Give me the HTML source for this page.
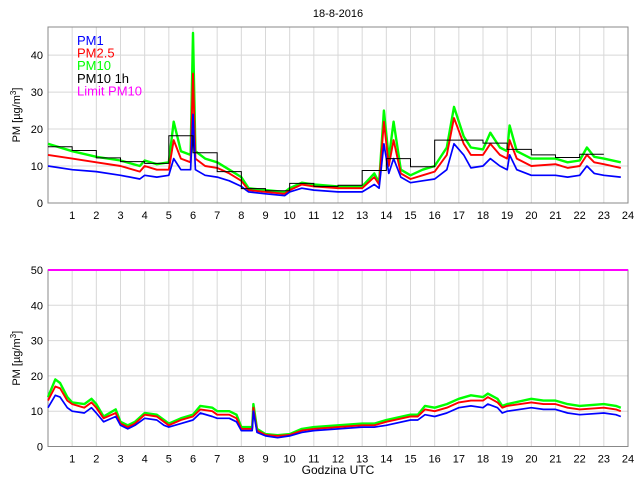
<!DOCTYPE html>
<html><head><meta charset="utf-8">
<style>
html,body{margin:0;padding:0;background:#fff;}
svg{display:block;font-family:"Liberation Sans",sans-serif;}
</style></head>
<body>
<svg id="c" width="640" height="480" viewBox="0 0 640 480"></svg>
<script>
// ---- top panel data ----
const topTimes=[0,1,2,3,3.8,4,4.5,5,5.2,5.5,5.9,6.0,6.1,6.5,7,7.5,8,8.3,9,9.8,10,10.5,11,12,13,13.5,13.7,13.9,14.1,14.3,14.6,15,15.5,16,16.5,16.8,17.2,17.5,18,18.3,18.7,19,19.1,19.4,20,21,21.5,22,22.3,22.6,23,23.7];
const topPM1=[10,9,8.5,7.5,6.5,7.5,7,7.5,12,9,9,24,9,7.5,7,6,4.5,3,2.5,2,3,4,3.5,3,3,5,4,16,8,12,7,5.5,6,6.5,9,16,13,9.5,10,12,10,9,13,9,7.5,7.5,7,7.5,10,8,7.5,7];
const topPM25=[13,12,11,10,8.5,10,9,9,17,12,11,35,12,10,9.5,8,6,3.5,3,2.5,3.5,5,4.5,4,4,7,5,22,10,17,8,6.5,7.5,8.5,13,23,16,13,13,16,13,12,17,12,10,10.5,9.5,10,13,11,10.5,9.5];
const topPM10=[16,14,12.5,11.5,10,11.5,10.5,11,22,14,13,46,14,12,11,9,7,4,3.5,3,4,5.5,5,4.5,4.5,8,5.5,25,12,22,9,7.5,9,10,15,26,18,15,14.5,19,15,14,21,14,12,12,11,11.5,15,12.5,12,11];
const hourly=[15.2,14.2,12.2,11.2,10.7,18.2,13.6,8.5,3.9,3.3,5.3,4.5,4.8,8.8,12,9.8,17,17,16.2,14.5,13,12.3,13.2];
// ---- bottom panel data ----
const botTimes=[0,0.3,0.5,0.8,1,1.5,1.8,2,2.3,2.8,3,3.3,3.6,4,4.5,4.8,5,5.5,6,6.3,6.8,7,7.5,7.8,8,8.3,8.45,8.5,8.65,9,9.5,10,10.5,11,12,13,13.5,14,15,15.3,15.6,16,16.5,17,17.5,18,18.2,18.6,18.8,19,20,20.5,21,21.5,22,23,23.5,23.7];
const botPM1=[11,14.5,14,11,10,9.5,11,9.5,7,8.5,6,5,6,8,7.5,6,5.5,6.5,7.5,9.5,8.5,8,8,7,4.5,4.5,4.5,10,4,3,2.5,3,4,4.5,5,5.5,5.5,6,7.5,7.5,9,8.5,9.5,11,11.5,11,12,11,9.5,10,11,10.5,10.5,9.5,9,9.5,9,8.5];
const botPM25=[13,17,16.5,13,12,11,12.5,11,8,9.5,6.5,5.5,6.5,9,8.5,7,6,7.5,8.5,10.5,10,9,9,8,5,5,5,11,4.5,3.3,3,3.3,4.5,5,5.5,6,6,7,8.5,8.5,10.5,10,11,12.5,13,13,14,12.5,11,11.5,12.5,12,12,11,10.5,11,10.5,10];
const botPM10=[14,19,18,14,12.5,12,13.5,12,8.5,10.5,7,6,7,9.5,9,7.5,6.5,8,9,11.5,11,10,10,9,5.5,5.5,5.5,12,5,3.5,3.2,3.5,5,5.5,6,6.5,6.5,7.5,9,9,11.5,11,12,13.5,14.5,14,15,13.5,11.5,12,13.5,13,13,12,11.5,12,11.5,11];
const limitPM10=50;
const xTicks=[1,2,3,4,5,6,7,8,9,10,11,12,13,14,15,16,17,18,19,20,21,22,23,24];
const yTicksTop=[0,10,20,30,40];
const yTicksBot=[0,10,20,30,40,50];

const NS="http://www.w3.org/2000/svg";
const svg=document.getElementById('c');
function el(tag,attrs,parent){const e=document.createElementNS(NS,tag);for(const k in attrs)e.setAttribute(k,attrs[k]);(parent||svg).appendChild(e);return e;}
const X0=48,X1=628;
const xs=t=>X0+(X1-X0)*t/24;

function panel(name,yTop,yBot,ymax,yticks){
  const ys=v=>yBot-(yBot-yTop)*v/ymax;
  const g=el('g',{});
  
  
  xTicks.forEach(t=>{if(t<24){const l=el('line',{x1:xs(t),x2:xs(t),y1:yTop,y2:yBot,stroke:'#d8d8d8','stroke-width':1},g);
    }});
  yticks.forEach(v=>{if(v>0&&v<ymax){const l=el('line',{x1:X0,x2:X1,y1:ys(v),y2:ys(v),stroke:'#d8d8d8','stroke-width':1},g);
    }});
  const b=el('rect',{x:X0,y:yTop,width:X1-X0,height:yBot-yTop,fill:'none',stroke:'#888','stroke-width':1},g);
  
  xTicks.forEach(t=>{const tx=el('text',{x:xs(t),y:yBot+16,'font-size':11,'text-anchor':'middle',fill:'#000'},g);tx.textContent=t;
    });
  yticks.forEach(v=>{const tx=el('text',{x:X0-5,y:ys(v)+4,'font-size':11,'text-anchor':'end',fill:'#000'},g);tx.textContent=v;
    });
  const yl=el('text',{transform:`translate(20,${(yTop+yBot)/2}) rotate(-90)`,'font-size':11,'text-anchor':'middle',fill:'#000'},g);
  yl.innerHTML='PM [µg/m<tspan dy="-4" font-size="8">3</tspan><tspan dy="4">]</tspan>';
  
  return {g,ys};
}
function line(p,times,vals,color,name,w){
  const pts=times.map((t,i)=>xs(t).toFixed(1)+','+p.ys(vals[i]).toFixed(1)).join(' ');
  const l=el('polyline',{points:pts,fill:'none',stroke:color,'stroke-width':w||1.3,'stroke-linejoin':'round'},p.g);
  
}
const ti=el('text',{x:338,y:17,'font-size':11,'text-anchor':'middle',fill:'#000'});ti.textContent='18-8-2016';


const P1=panel('top-panel',27,203,47.6,yTicksTop);
line(P1,topTimes,topPM10,'#00ff00','pm10-line-top',2.4);
line(P1,topTimes,topPM25,'#ff0000','pm25-line-top',1.9);
line(P1,topTimes,topPM1,'#0000ff','pm1-line-top',1.7);
let hp=[];hourly.forEach((v,i)=>{hp.push(xs(i)+','+P1.ys(v));hp.push(xs(i+1)+','+P1.ys(v));});
const hl=el('polyline',{points:hp.join(' '),fill:'none',stroke:'#000','stroke-width':1},P1.g);

const leg=[['PM1','#0000ff'],['PM2.5','#ff0000'],['PM10','#00ff00'],['PM10 1h','#000000'],['Limit PM10','#ff00ff']];
leg.forEach((d,i)=>{const tx=el('text',{x:77,y:45+i*12.6,'font-size':13,fill:d[1]});tx.textContent=d[0];
  });

const P2=panel('bottom-panel',270,446.5,50,yTicksBot);
line(P2,botTimes,botPM10,'#00ff00','pm10-line-bottom',2.4);
line(P2,botTimes,botPM25,'#ff0000','pm25-line-bottom',1.9);
line(P2,botTimes,botPM1,'#0000ff','pm1-line-bottom',1.7);
const lim=el('line',{x1:X0,x2:X1,y1:P2.ys(limitPM10),y2:P2.ys(limitPM10),stroke:'#ff00ff','stroke-width':2});

const xl=el('text',{x:338,y:474,'font-size':12,'text-anchor':'middle',fill:'#000'});xl.textContent='Godzina UTC';

</script>
</body></html>
